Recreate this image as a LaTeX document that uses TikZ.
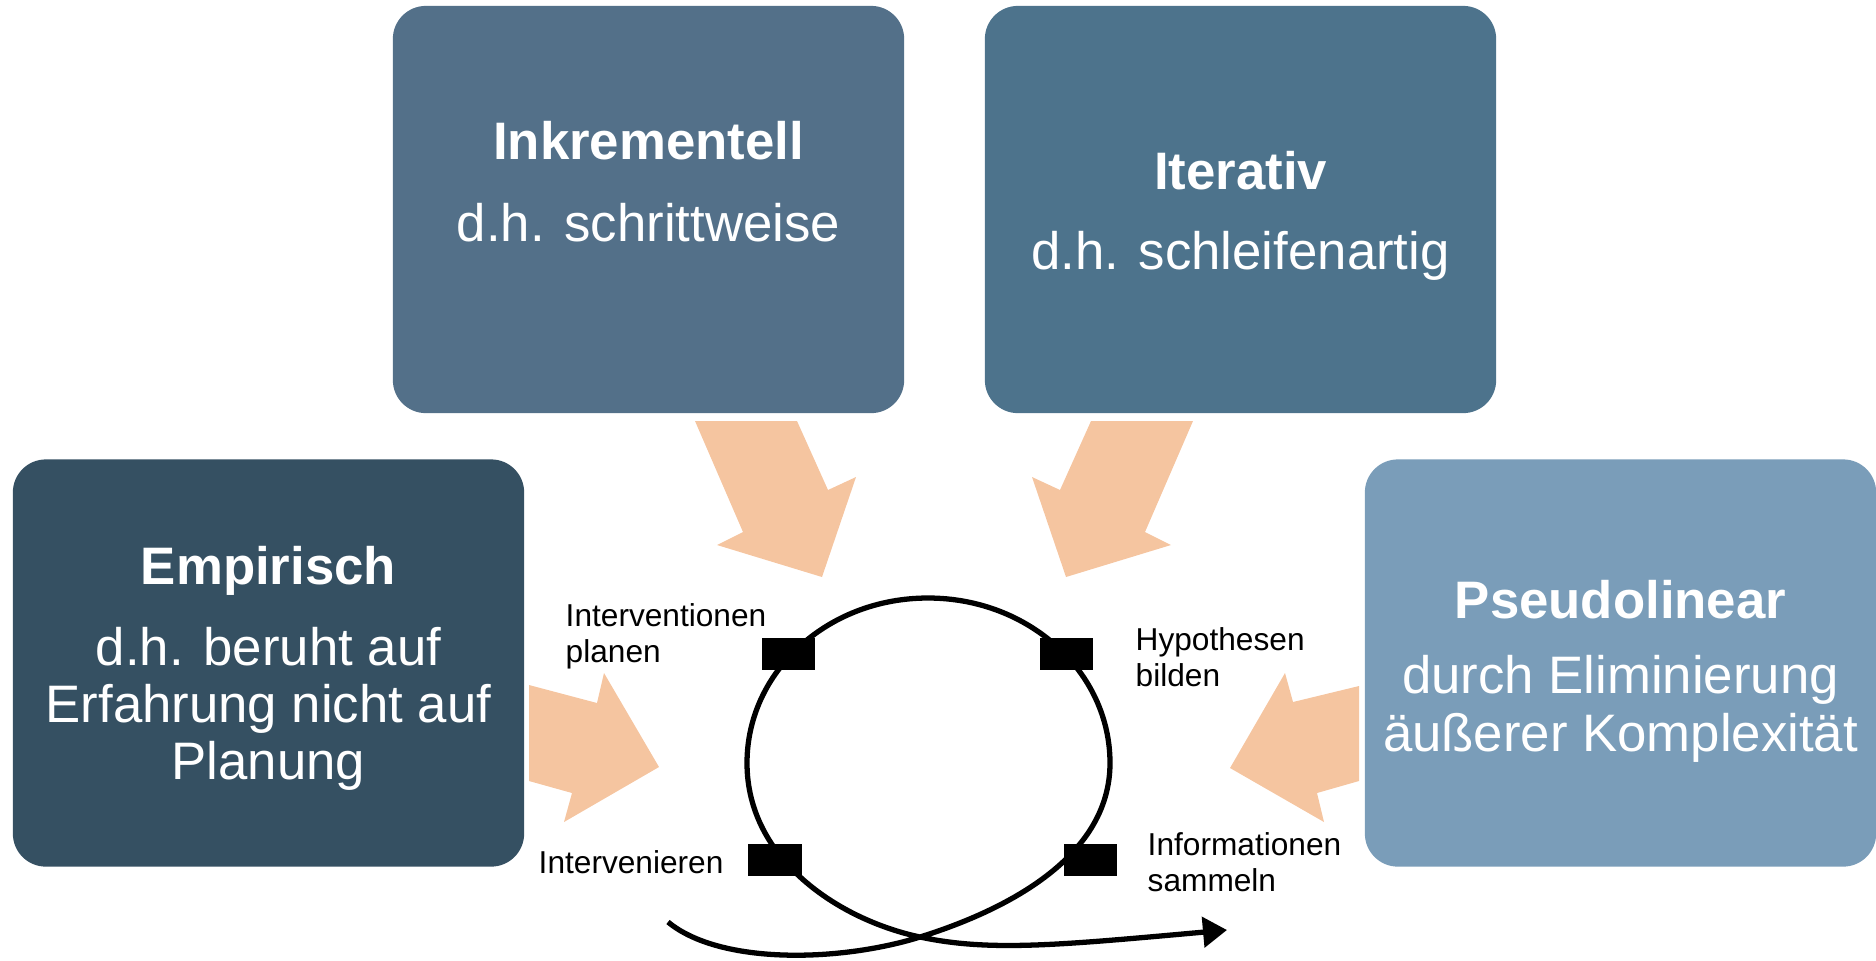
\documentclass[tikz,border=0pt]{standalone}
\usepackage{fontspec}
\setmainfont{Liberation Sans}
\usetikzlibrary{arrows.meta}
\definecolor{inkblue}{HTML}{537089}
\definecolor{iterblue}{HTML}{4D738C}
\definecolor{empblue}{HTML}{355062}
\definecolor{pseublue}{HTML}{7A9DB9}
\definecolor{peach}{HTML}{F5C5A0}
\begin{document}
\begin{tikzpicture}[x=0.01cm,y=-0.01cm]
\tikzstyle{every node}+=[inner sep=0pt]
\tikzstyle{box}=[rounded corners=0.33cm, minimum width=5.11cm, minimum height=4.07cm]
\tikzstyle{head}=[text=white, font=\fontsize{15}{18}\selectfont\bfseries]
\tikzstyle{body}=[text=white, font=\fontsize{15}{16.3}\selectfont, align=center]
\tikzstyle{lbl}=[font=\fontsize{9}{10.2}\selectfont, align=left]
\tikzstyle{pfeil}=[fill=peach]
\tikzstyle{marker}=[fill=black, minimum width=0.53cm, minimum height=0.32cm]
\useasboundingbox (0,0) rectangle (1876,960);
% boxes
\node [box, fill=inkblue] (ink) at (648.5,209.5) {};
\node [head] (inkT) at (648.5,141) {Inkrementell};
\node [body] (inkB) at (648.5,222.5) {d.h. schrittweise};
\node [box, fill=iterblue] (iter) at (1240.5,209.5) {};
\node [head] (iterT) at (1240.5,171) {Iterativ};
\node [body] (iterB) at (1240.5,256) {d.h. schleifenartig};
\node [box, fill=empblue] (emp) at (268.5,663) {};
\node [head] (empT) at (268.5,571) {Empirisch};
\node [body] (empB) at (268.5,709) {d.h. beruht auf\\Erfahrung nicht auf\\Planung};
\node [box, fill=pseublue] (pseu) at (1620.5,663) {};
\node [head] (pseuT) at (1620.5,600) {Pseudolinear};
\node [body] (pseuB) at (1620.5,709) {durch Eliminierung\\äußerer Komplexität};
% block arrows
\fill [pfeil] (695,421) -- (797,421) -- (828,490) -- (856,477) -- (822,577) -- (717,545) -- (743,532) -- cycle;
\fill [pfeil] (1193,421) -- (1091,421) -- (1060,490) -- (1032,477) -- (1066,577) -- (1171,545) -- (1145,532) -- cycle;
\fill [pfeil] (529,685) -- (597,703) -- (604,673) -- (659,767) -- (564,822) -- (572,793) -- (529,781) -- cycle;
\fill [pfeil] (1359,686) -- (1293,702) -- (1285,673) -- (1230,768) -- (1324,822) -- (1317,793) -- (1359,781) -- cycle;
% loop
\draw [line width=1.5pt, -{Triangle[length=0.24cm,width=0.3cm]}] (668,922) .. controls (720,965) and (840,962) .. (920,937)
  .. controls (1000,912) and (1110,860) .. (1110,763)
  .. controls (1110,672) and (1029,598) .. (928,598)
  .. controls (827,598) and (747,672) .. (747,763)
  .. controls (747,860) and (840,920) .. (920,937)
  .. controls (990,952) and (1060,945) .. (1227,930);
\node [marker] (mPlan) at (788.5,654) {};
\node [marker] (mHyp) at (1066,654) {};
\node [marker] (mInt) at (775,859.5) {};
\node [marker] (mInf) at (1090,859.5) {};
% labels
\node [lbl, anchor=north west] (lPlan) at (565,603) {Interventionen\\planen};
\node [lbl, anchor=north west] (lHyp) at (1135,627) {Hypothesen\\bilden};
\node [lbl, anchor=base west] (lInt) at (538,873) {Intervenieren};
\node [lbl, anchor=north west] (lInf) at (1147,832) {Informationen\\sammeln};
\end{tikzpicture}
\end{document}
